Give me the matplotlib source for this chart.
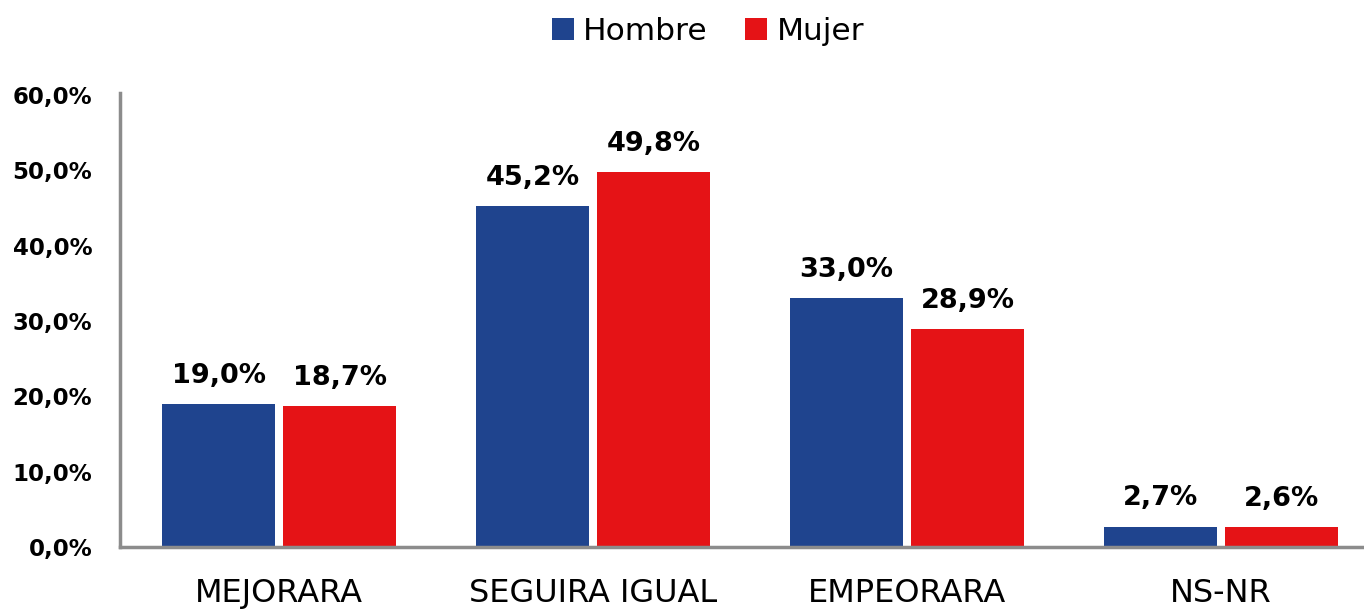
import matplotlib
matplotlib.use("Agg")
import matplotlib.pyplot as plt
import numpy as np
from matplotlib.patches import Patch

categories = ["MEJORARA", "SEGUIRA IGUAL", "EMPEORARA", "NS-NR"]
hombre = [19.0, 45.2, 33.0, 2.7]
mujer = [18.7, 49.8, 28.9, 2.6]
series_names = ["Hombre", "Mujer"]
yticks = [0, 10, 20, 30, 40, 50, 60]

blue = "#1F448E"
red = "#E51316"
axis_grey = "#8C8C8C"

plt.rcParams['font.family'] = ['DejaVu Sans']

fig = plt.figure(figsize=(13.64, 6.10), dpi=100)
ax = fig.add_axes([120/1364, (610-547)/610, (1364-120)/1364, (547-95)/610])

x = np.arange(len(categories))
w = 0.36
off = 0.193
b1 = ax.bar(x - off, hombre, w, color=blue)
b2 = ax.bar(x + off, mujer, w, color=red)

def fmt(v):
    return f"{v:.1f}".replace(".", ",") + "%"

for bars, vals in ((b1, hombre), (b2, mujer)):
    for b, v in zip(bars, vals):
        ax.annotate(fmt(v), (b.get_x() + b.get_width()/2, v), xytext=(0, 11),
                    textcoords="offset points", ha="center", va="bottom",
                    fontsize=19.5, fontweight="bold", color="black")

ax.set_xlim(-0.507, 3.455)
ax.set_ylim(0, 60)
ax.set_yticks(yticks)
ax.set_yticklabels([fmt(t) for t in yticks], fontsize=16.5, fontweight="bold")
ax.set_xticks(x)
ax.set_xticklabels(categories, fontsize=23)
ax.tick_params(axis="y", length=0, pad=20)
ax.tick_params(axis="x", length=0, pad=22)

for s in ("top", "right"):
    ax.spines[s].set_visible(False)
for s in ("left", "bottom"):
    ax.spines[s].set_color(axis_grey)
    ax.spines[s].set_linewidth(2.5)
ax.spines["left"].set_bounds(0, 60.3)

handles = [Patch(facecolor=blue), Patch(facecolor=red)]
fig.legend(handles, series_names, loc="center", bbox_to_anchor=(708/1364, 1 - 31/610),
           ncol=2, frameon=False, fontsize=22.5, handlelength=0.7, handleheight=0.7,
           handletextpad=0.3, columnspacing=1.2)

fig.savefig("out.png", dpi=100)
